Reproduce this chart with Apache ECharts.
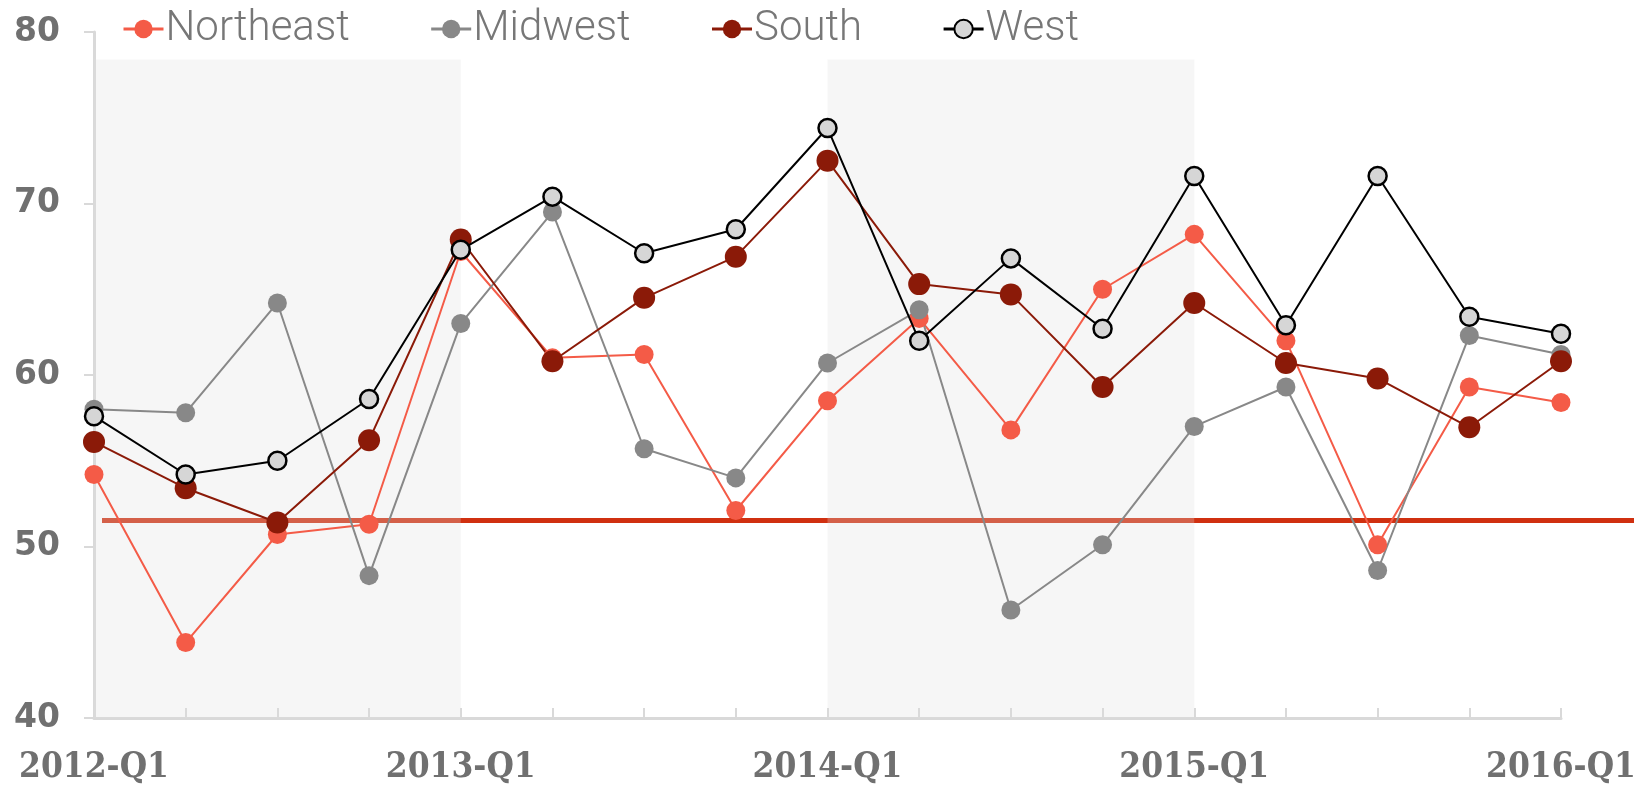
<!DOCTYPE html>
<html>
<head>
<meta charset="utf-8">
<script src="https://cdn.jsdelivr.net/npm/echarts@6/dist/echarts.min.js"></script>
<style>
  html, body { margin: 0; padding: 0; background: #ffffff; }
  #chart { width: 1646px; height: 785px; }
</style>
</head>
<body>
<div id="chart"></div>
<script>
const categories = ['2012-Q1','2012-Q2','2012-Q3','2012-Q4','2013-Q1','2013-Q2','2013-Q3','2013-Q4',
  '2014-Q1','2014-Q2','2014-Q3','2014-Q4','2015-Q1','2015-Q2','2015-Q3','2015-Q4','2016-Q1'];
const northeast = [54.2, 44.4, 50.7, 51.3, 67.2, 61.0, 61.2, 52.1, 58.5, 63.3, 56.8, 65.0, 68.2, 62.0, 50.1, 59.3, 58.4];
const midwest   = [58.0, 57.8, 64.2, 48.3, 63.0, 69.5, 55.7, 54.0, 60.7, 63.8, 46.3, 50.1, 57.0, 59.3, 48.6, 62.3, 61.2];
const south     = [56.1, 53.4, 51.4, 56.2, 67.9, 60.8, 64.5, 66.9, 72.5, 65.3, 64.7, 59.3, 64.2, 60.7, 59.8, 56.95, 60.8];
const west      = [57.6, 54.2, 55.0, 58.6, 67.3, 70.4, 67.1, 68.5, 74.4, 62.0, 66.8, 62.7, 71.6, 62.9, 71.6, 63.4, 62.4];
const threshold = 51.6;
const shadedPeriods = [['2012-Q1', '2013-Q1'], ['2014-Q1', '2015-Q1']];
const yTicks = { min: 40, max: 80, interval: 10 };

const chart = echarts.init(document.getElementById('chart'), null, { renderer: 'canvas' });

const axisGray = '#d9d9d9';
const labelGray = '#707070';

function lineSeries(name, data, color, size, extra) {
  return Object.assign({
    name: name,
    type: 'line',
    data: data,
    xAxisIndex: 0,
    yAxisIndex: 0,
    z: 2,
    symbol: 'circle',
    symbolSize: size,
    lineStyle: { color: color, width: 2 },
    itemStyle: { color: color },
    emphasis: { disabled: true },
    animation: false
  }, extra || {});
}

const option = {
  backgroundColor: '#ffffff',
  animation: false,
  legend: {
    data: ['Northeast', 'Midwest', 'South', 'West'],
    left: 122,
    top: 8,
    padding: 0,
    itemWidth: 40,
    itemHeight: 23,
    itemGap: 80,
    lineStyle: { width: 3 },
    textStyle: { color: '#777777', fontFamily: 'Roboto', fontWeight: 300, fontSize: 42, padding: [4, 0, 0, -3] }
  },
  grid: [
    { left: 94, right: 85, top: 32, bottom: 65 },
    { left: 102, right: 12, top: 32, bottom: 65 }
  ],
  xAxis: [
    {
      type: 'category',
      gridIndex: 0,
      data: categories,
      boundaryGap: false,
      axisLine: { show: true, lineStyle: { color: axisGray, width: 3 } },
      axisTick: { show: true, inside: true, length: 10, interval: 0, lineStyle: { color: axisGray, width: 2 } },
      axisLabel: {
        interval: 3,
        margin: 32,
        color: labelGray,
        fontFamily: 'DejaVu Serif Condensed',
        fontWeight: 'bold',
        fontSize: 35
      },
      splitLine: { show: false }
    },
    { type: 'value', gridIndex: 1, min: 0, max: 1, show: false }
  ],
  yAxis: [
    {
      type: 'value',
      gridIndex: 0,
      min: yTicks.min,
      max: yTicks.max,
      interval: yTicks.interval,
      axisLine: { show: true, lineStyle: { color: axisGray, width: 3 } },
      axisTick: { show: true, inside: false, length: 10, lineStyle: { color: axisGray, width: 2 } },
      axisLabel: {
        margin: 34,
        color: labelGray,
        fontFamily: 'DejaVu Sans',
        fontWeight: 'bold',
        fontSize: 33
      },
      splitLine: { show: false }
    },
    { type: 'value', gridIndex: 1, min: yTicks.min, max: yTicks.max, show: false }
  ],
  series: [
    {
      name: 'threshold',
      type: 'line',
      xAxisIndex: 1,
      yAxisIndex: 1,
      z: 0,
      data: [[0, threshold], [1, threshold]],
      symbol: 'none',
      lineStyle: { color: '#d03010', width: 5 },
      emphasis: { disabled: true },
      silent: true,
      animation: false
    },
    lineSeries('Northeast', northeast, '#f45b47', 19, {
      markArea: {
        silent: true,
        z: 1,
        itemStyle: { color: 'rgba(222,222,222,0.28)' },
        data: shadedPeriods.map(p => [
          { xAxis: p[0], yAxis: 78.4 },
          { xAxis: p[1], yAxis: yTicks.min }
        ])
      }
    }),
    lineSeries('Midwest', midwest, '#888888', 19),
    lineSeries('South', south, '#8b1a08', 22),
    {
      name: 'West',
      type: 'line',
      data: west,
      z: 3,
      symbol: 'circle',
      symbolSize: 18,
      lineStyle: { color: '#000000', width: 2 },
      itemStyle: { color: '#d6d6d6', borderColor: '#000000', borderWidth: 2.5 },
      emphasis: { disabled: true },
      animation: false
    }
  ]
};

chart.setOption(option);
</script>
</body>
</html>
